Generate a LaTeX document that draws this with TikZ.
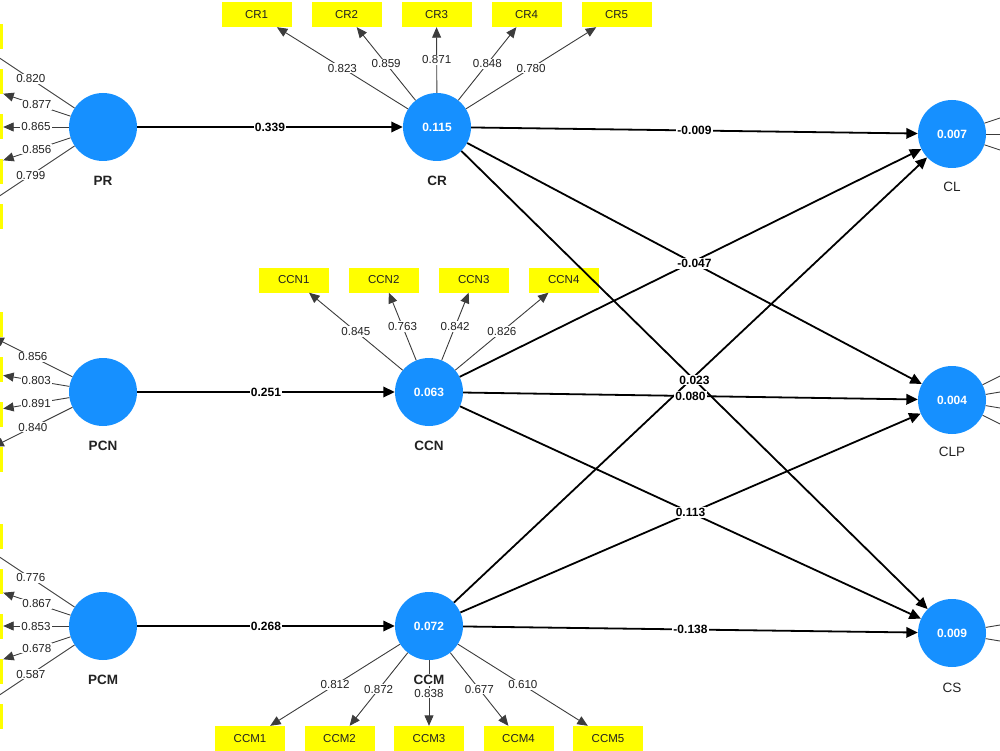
\documentclass[tikz,border=0pt]{standalone}
\usepackage{fontspec}
\setmainfont{Liberation Sans}
\usetikzlibrary{arrows.meta}
\definecolor{lvblue}{RGB}{22,144,255}
\definecolor{indyellow}{RGB}{255,255,0}
\definecolor{ldgray}{RGB}{60,60,60}
\definecolor{txtdark}{RGB}{34,34,34}
\begin{document}
\begin{tikzpicture}[x=1pt,y=-1pt,
  lvnode/.style={circle,fill=lvblue,minimum size=68pt,inner sep=0pt,text=white,font=\bfseries\fontsize{12}{12}\selectfont},
  indbox/.style={rectangle,fill=indyellow,minimum width=70pt,minimum height=25pt,inner sep=0pt,text=txtdark,font=\fontsize{11.5}{12}\selectfont},
  lvname/.style={fill=white,inner sep=1pt,text=txtdark,font=\bfseries\fontsize{13.5}{14}\selectfont},
  lvnamer/.style={inner sep=1pt,text=txtdark,font=\fontsize{13.5}{14}\selectfont},
  loading/.style={draw=ldgray,line width=0.9pt,-{Triangle[length=10.5pt,width=9pt]}},
  struct/.style={draw=black,line width=1.8pt,-{Triangle[length=11.5pt,width=10.5pt]}},
  ldlab/.style={fill=white,inner sep=1pt,text=txtdark,font=\fontsize{11.6}{12}\selectfont},
  stlab/.style={fill=white,inner sep=1pt,text=black,font=\bfseries\fontsize{12}{12}\selectfont},
]
\useasboundingbox (0,0) rectangle (1000,751);
\clip (0,0) rectangle (1000,751);

% latent variables
\node[lvnode] (PR)  at (103,127) {};
\node[lvnode] (CR)  at (437,127) {0.115};
\node[lvnode] (CL)  at (952,134) {0.007};
\node[lvnode] (PCN) at (103,392) {};
\node[lvnode] (CCN) at (429,392) {0.063};
\node[lvnode] (CLP) at (952,400) {0.004};
\node[lvnode] (PCM) at (103,626) {};
\node[lvnode] (CCM) at (429,626) {0.072};
\node[lvnode] (CS)  at (952,633) {0.009};

% indicators
\foreach \i/\y in {1/37,2/82,3/127,4/172,5/217} \node[indbox] (PR\i) at (-32,\y) {};
\foreach \i/\y in {1/324.5,2/369.5,3/414.5,4/459.5} \node[indbox] (PCN\i) at (-32,\y) {};
\foreach \i/\y in {1/536,2/581,3/626,4/671,5/716} \node[indbox] (PCM\i) at (-32,\y) {};
\foreach \i/\x in {1/256.5,2/346.5,3/436.5,4/526.5,5/616.5} \node[indbox] (CR\i) at (\x,14.5) {CR\i};
\foreach \i/\x in {1/293.75,2/383.75,3/473.75,4/563.75} \node[indbox] (CCN\i) at (\x,280) {CCN\i};
\foreach \i/\x in {1/250,2/339.5,3/429,4/518.5,5/608} \node[indbox] (CCM\i) at (\x,738.5) {CCM\i};
\foreach \i/\y in {1/89,2/134,3/179} \node[indbox] (CL\i) at (1087,\y) {};
\foreach \i/\y in {1/332.5,2/377.5,3/422.5,4/467.5} \node[indbox] (CLP\i) at (1087,\y) {};
\foreach \i/\y in {1/610.5,2/655.5} \node[indbox] (CS\i) at (1087,\y) {};

% outer loadings
\foreach \i/\v in {1/0.820,2/0.877,3/0.865,4/0.856,5/0.799}
  \draw[loading] (PR) -- (PR\i) node[ldlab,pos=.5] {\v};
\foreach \i/\v in {1/0.856,2/0.803,3/0.891,4/0.840}
  \draw[loading] (PCN) -- (PCN\i) node[ldlab,pos=.5] {\v};
\foreach \i/\v in {1/0.776,2/0.867,3/0.853,4/0.678,5/0.587}
  \draw[loading] (PCM) -- (PCM\i) node[ldlab,pos=.5] {\v};
\foreach \i/\v in {1/0.823,2/0.859,3/0.871,4/0.848,5/0.780}
  \draw[loading] (CR) -- (CR\i) node[ldlab,pos=.5] {\v};
\foreach \i/\v in {1/0.845,2/0.763,3/0.842,4/0.826}
  \draw[loading] (CCN) -- (CCN\i) node[ldlab,pos=.5] {\v};
\foreach \i/\v in {1/0.812,2/0.872,3/0.838,4/0.677,5/0.610}
  \draw[loading] (CCM) -- (CCM\i) node[ldlab,pos=.5] {\v};
\foreach \i in {1,2,3} \draw[loading] (CL) -- (CL\i);
\foreach \i in {1,2,3,4} \draw[loading] (CLP) -- (CLP\i);
\foreach \i in {1,2} \draw[loading] (CS) -- (CS\i);

% structural paths
\draw[struct] (PR) -- (CR);
\draw[struct] (PCN) -- (CCN);
\draw[struct] (PCM) -- (CCM);
\draw[struct] (CR) -- (CL);
\draw[struct] (CR) -- (CLP);
\draw[struct] (CR) -- (CS);
\draw[struct] (CCN) -- (CL);
\draw[struct] (CCN) -- (CLP);
\draw[struct] (CCN) -- (CS);
\draw[struct] (CCM) -- (CL);
\draw[struct] (CCM) -- (CLP);
\draw[struct] (CCM) -- (CS);

% path coefficients
\path (PR) -- (CR) node[stlab,pos=.5] {0.339};
\path (PCN) -- (CCN) node[stlab,pos=.5] {0.251};
\path (PCM) -- (CCM) node[stlab,pos=.5] {0.268};
\path (CR) -- (CL) node[stlab,pos=.5] {-0.009};
\path (CR) -- (CLP) node[stlab,pos=.5] {-0.047};
\path (CR) -- (CS) node[stlab,pos=.5] {0.023};
\path (CCN) -- (CLP) node[stlab,pos=.5] {0.080};
\path (CCN) -- (CS) node[stlab,pos=.5] {0.113};
\path (CCM) -- (CS) node[stlab,pos=.5] {-0.138};

% names
\node[lvname] (PRname) at (103,181) {PR};
\node[lvname] (CRname) at (437,181) {CR};
\node[lvname] (PCNname) at (103,446) {PCN};
\node[lvname] (CCNname) at (429,446) {CCN};
\node[lvname] (PCMname) at (103,680) {PCM};
\node[lvname] (CCMname) at (429,680) {CCM};
\node[lvnamer] (CLname) at (952,187) {CL};
\node[lvnamer] (CLPname) at (952,452) {CLP};
\node[lvnamer] (CSname) at (952,688) {CS};
\end{tikzpicture}
\end{document}
